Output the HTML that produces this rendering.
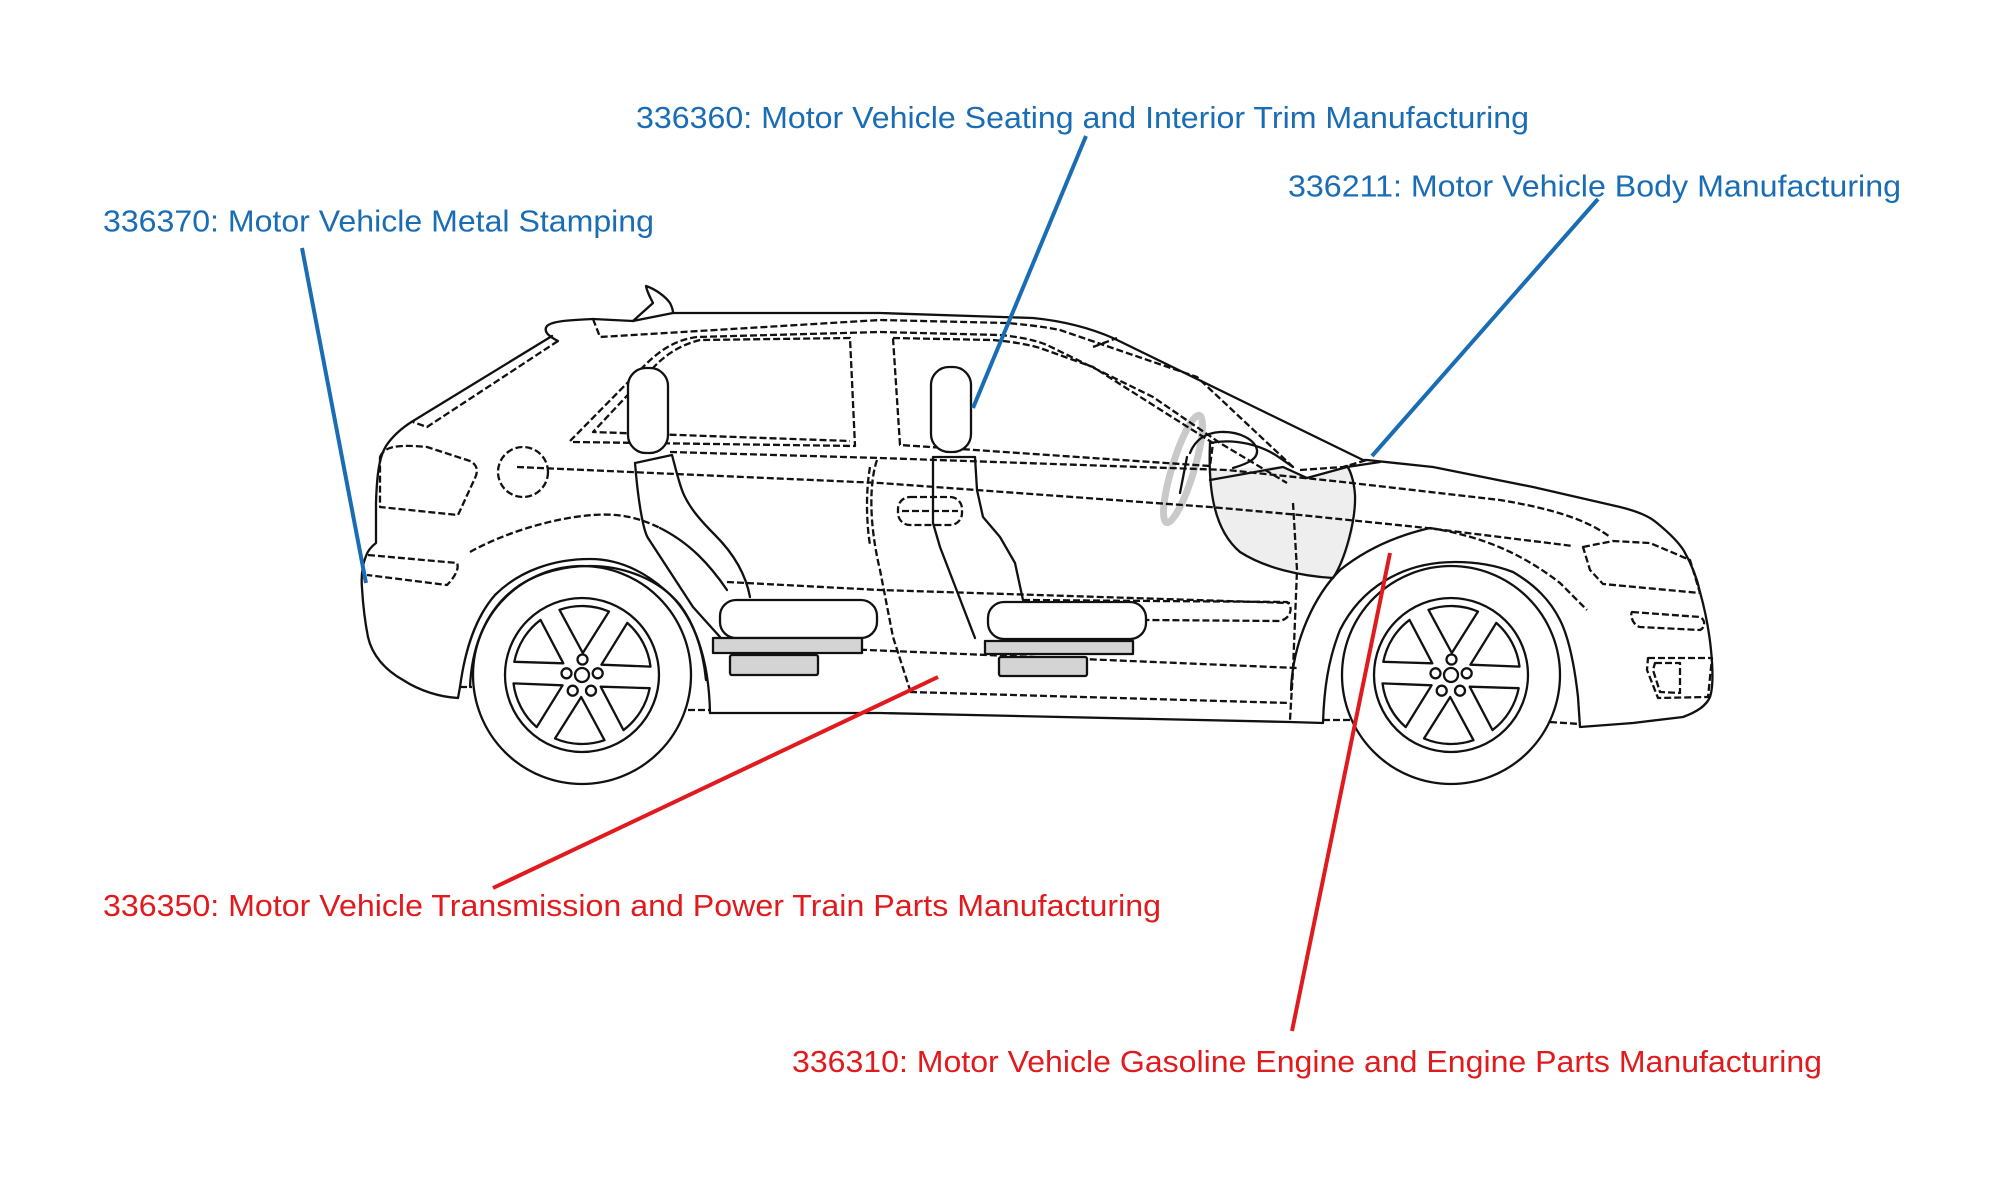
<!DOCTYPE html>
<html><head><meta charset="utf-8">
<style>
html,body{margin:0;padding:0;background:#fff;}
svg{display:block;}
.k{fill:none;stroke:#111;stroke-width:2.3;stroke-linejoin:round;stroke-linecap:round}
.d{stroke-dasharray:7 3;stroke-linecap:butt}
.w{fill:#fff}
.g{fill:#d4d4d4}
text{font-family:"Liberation Sans",Arial,sans-serif;font-size:30.5px}
.b{fill:#1a6db4}
.r{fill:#e11a1e}
</style></head>
<body>
<svg width="2000" height="1181" viewBox="0 0 2000 1181" xmlns="http://www.w3.org/2000/svg">
<rect width="2000" height="1181" fill="#fff"/>
<defs>
<g id="wheel">
  <circle r="109" class="k" fill="#fff"/>
  <circle r="77" class="k"/>
  <path class="k" d="M0.8,-22 L-22.5,-65.2 A69,69 0 0 1 27,-63.5 Z"/>
  <path class="k" d="M19.4,-10.3 L45.3,-52.1 A69,69 0 0 1 68.5,-8.4 Z"/>
  <path class="k" d="M18.7,11.7 L67.7,13.2 A69,69 0 0 1 41.5,55.1 Z"/>
  <path class="k" d="M-0.8,22 L22.5,65.2 A69,69 0 0 1 -27,63.5 Z"/>
  <path class="k" d="M-19.4,10.3 L-45.3,52.1 A69,69 0 0 1 -68.5,8.4 Z"/>
  <path class="k" d="M-18.7,-11.7 L-67.7,-13.2 A69,69 0 0 1 -41.5,-55.1 Z"/>
  <circle r="7" class="k" fill="#fff"/>
  <circle cx="0.5" cy="-15.5" r="5" class="k" fill="#fff"/>
  <circle cx="15.7" cy="-1.7" r="5" class="k" fill="#fff"/>
  <circle cx="9" cy="15.7" r="5" class="k" fill="#fff"/>
  <circle cx="-9.3" cy="15.7" r="5" class="k" fill="#fff"/>
  <circle cx="-15.5" cy="-1.7" r="5" class="k" fill="#fff"/>
</g>
</defs>

<!-- wheels -->
<use href="#wheel" x="582" y="675"/>
<use href="#wheel" x="1451" y="675"/>

<!-- gray blob -->
<path d="M1210,470 L1283,466 L1307,478 L1347,466 C1356,485 1357,520 1350,545 C1345,560 1340,570 1333,578 C1300,576 1265,568 1240,552 C1218,535 1210,505 1210,470 Z" fill="#eeeeee"/>
<path class="k" d="M1210,443 C1208,490 1214,530 1240,552 C1265,568 1300,576 1333,578 C1345,560 1356,520 1355,495 C1354,480 1350,470 1347,466"/>
<ellipse cx="1183" cy="469" rx="11" ry="56" transform="rotate(17 1183 469)" fill="none" stroke="#c9c9c9" stroke-width="7"/>

<!-- roof & rear -->
<path class="k" d="M593,319 C570,320 552,321 547,326 C543,331 548,336 558,341"/>
<path class="k" d="M593,319 L633,321 L653,303 C650,297 647,292 646,286 C655,289 665,296 670,303 C672,307 673,310 673,313 L880,313 L1033,318 C1063,321 1090,328 1113,338 L1363,460 L1367,460"/>
<path class="k" d="M633,321 L673,313"/>
<path class="k" d="M552,336 L413,421 C400,429 392,437 386,446 C380,456 377,470 376,503 L376,543 C372,546 368,550 366,556 C362,566 361,576 362,588 C363,605 365,622 368,637 C372,655 385,670 403,680 C420,691 440,697 458,698 L460,687"/>
<path class="k d" d="M558,341 L427,427 L413,422"/>
<path class="k d" d="M593,319 L600,337 L880,320 L1007,323 C1030,325 1045,327 1060,330 L1197,377 L1293,467"/>
<path class="k d" d="M570,441 L643,367 C660,350 675,340 697,337 L880,332 L1000,335 C1020,337 1035,340 1047,345 L1153,397 L1220,443 L1287,483"/>
<path class="k d" d="M573,442 L855,446 L850,338 L700,340 C680,345 665,355 653,368 L593,432 L850,441"/>
<path class="k d" d="M893,338 L993,340 C1015,342 1030,345 1040,348 L1093,367 L1213,443 L1210,466 L975,450 L900,445 Z"/>
<path class="k d" d="M1093,347 L1117,338"/>
<!-- long body lines -->
<path class="k d" d="M670,452 L880,458 L1227,470 L1343,482 L1500,500 C1560,510 1590,522 1610,537"/>
<path class="k d" d="M517,467 L880,483 L1210,507 L1300,515 L1427,528 L1573,546"/>
<path class="k d" d="M470,552 C500,535 550,518 593,515 C620,513 640,518 660,528"/>
<path class="k" d="M660,528 C690,543 710,565 727,590"/>
<path class="k d" d="M727,582 L880,590 L1290,603"/>
<path class="k d" d="M820,648 L1297,668"/>
<path class="k d" d="M910,692 L1290,703"/>
<path class="k d" d="M860,600 C880,602 880,636 860,638"/>
<path class="k d" d="M1023,600 L1287,602 C1293,606 1292,618 1280,621 L1147,620"/>
<!-- pillars / door edges -->
<path class="k d" d="M877,460 C870,480 868,520 880,570 L893,637 L910,690"/>
<path class="k d" d="M870,467 C866,490 866,520 870,545"/>
<path class="k d" d="M1293,503 L1297,570 L1293,670 L1290,720"/>
<!-- taillight, reflector, fuel cap -->
<path class="k d" d="M380,457 C384,447 395,444 427,447 L470,461 C478,465 478,472 475,478 L458,515 L380,507 Z"/>
<path class="k d" d="M368,555 L457,563 C460,570 452,580 447,585 L367,575"/>
<circle cx="523" cy="472" r="25" class="k d"/>

<!-- rear seat -->
<rect x="628" y="368" width="40" height="85" rx="18" class="k w"/>
<path class="k" d="M635,463 C638,500 643,530 648,538 L693,607 L720,637 M635,463 L672,455 C676,470 680,487 684,495 C690,508 700,520 715,535 C730,550 745,570 750,597"/>
<rect x="720" y="600" width="157" height="38" rx="16" class="k w"/>
<rect x="713" y="638" width="149" height="15" class="k g"/>
<rect x="730" y="655" width="88" height="20" rx="2" class="k g"/>
<!-- front seat -->
<rect x="931" y="367" width="40" height="85" rx="18" class="k w"/>
<rect x="898" y="497" width="64" height="28" rx="12" class="k d"/>
<path class="k d" d="M902,511 L958,511"/>
<path class="k" d="M933,457 L975,457 M933,457 L933,523 L940,547 L975,638 M975,457 L977,490 L983,517 L1000,537 L1015,563 L1023,600"/>
<rect x="988" y="602" width="158" height="37" rx="16" class="k w"/>
<rect x="985" y="641" width="148" height="13" class="k g"/>
<rect x="999" y="657" width="88" height="19" rx="2" class="k g"/>

<!-- mirror & windshield base -->
<path class="k" d="M1190,453 C1195,440 1205,433 1220,432 C1240,431 1255,440 1257,450 C1258,458 1250,463 1233,468"/>
<path class="k" d="M1210,443 C1235,438 1262,445 1280,458 L1293,467"/>
<path class="k" d="M1187,457 L1180,493"/>
<path class="k" d="M1210,480 L1283,467 L1307,478 L1347,467 L1380,462"/>
<path class="k d" d="M1300,470 L1343,467 L1367,460"/>

<!-- front body -->
<path class="k" d="M1367,460 L1433,467 L1533,487 L1620,507 C1640,512 1650,517 1657,523 C1668,532 1678,541 1684,551 C1692,565 1697,578 1700,592 C1705,610 1709,630 1711,650 C1713,670 1713,688 1710,697 C1706,706 1697,712 1683,717 L1633,723 L1580,727 L1578,697 C1575,670 1570,640 1560,620 C1550,600 1535,585 1513,572 C1495,565 1475,562 1455,562 C1400,562 1360,590 1340,630 C1328,660 1324,690 1323,723 L1290,722 L880,713 L710,713"/>
<path class="k" d="M1291,690 C1293,640 1315,595 1340,570 C1365,550 1395,536 1430,528"/>
<path class="k d" d="M1430,528 C1480,536 1520,552 1560,583 L1587,610"/>
<path class="k d" d="M1583,547 L1613,541 L1650,543 L1690,560 L1700,593 L1603,584 L1590,570 Z"/>
<path class="k d" d="M1632,612 L1700,617 C1706,620 1705,628 1700,630 L1640,627 C1632,625 1630,614 1632,612 Z"/>
<path class="k d" d="M1648,658 L1712,658 L1708,697 L1658,698 L1647,670 Z"/>
<path class="k d" d="M1655,663 L1680,663 L1680,693 L1660,692 L1653,670 Z"/>
<path class="k d" d="M1323,720 L1352,720 M1550,722 L1580,724"/>

<!-- rear arches -->
<path class="k" d="M710,713 C709,660 695,615 665,590 C640,568 615,559 590,559 C555,559 520,570 495,595 C475,618 465,650 460,687"/>
<path class="k" d="M470,687 C472,640 490,605 520,585 C540,572 565,566 590,566 C625,566 660,580 680,605 C695,625 703,650 706,680"/>
<path class="k d" d="M460,687 L472,687 M688,710 L710,710"/>

<!-- leader lines -->
<g stroke-width="4" fill="none" stroke-linecap="butt">
<line x1="302" y1="248" x2="366" y2="583" stroke="#1a6db4"/>
<line x1="1086" y1="136" x2="973" y2="408" stroke="#1a6db4"/>
<line x1="1598" y1="199" x2="1372" y2="456" stroke="#1a6db4"/>
<line x1="493" y1="888" x2="938" y2="677" stroke="#e11a1e"/>
<line x1="1292" y1="1031" x2="1390" y2="553" stroke="#e11a1e"/>
</g>

<!-- labels -->
<text class="b" x="103" y="231.5" textLength="551" lengthAdjust="spacingAndGlyphs">336370: Motor Vehicle Metal Stamping</text>
<text class="b" x="636" y="128" textLength="893" lengthAdjust="spacingAndGlyphs">336360: Motor Vehicle Seating and Interior Trim Manufacturing</text>
<text class="b" x="1288" y="196.5" textLength="613" lengthAdjust="spacingAndGlyphs">336211: Motor Vehicle Body Manufacturing</text>
<text class="r" x="103" y="916" textLength="1058" lengthAdjust="spacingAndGlyphs">336350: Motor Vehicle Transmission and Power Train Parts Manufacturing</text>
<text class="r" x="792" y="1072" textLength="1030" lengthAdjust="spacingAndGlyphs">336310: Motor Vehicle Gasoline Engine and Engine Parts Manufacturing</text>
</svg>
</body></html>
